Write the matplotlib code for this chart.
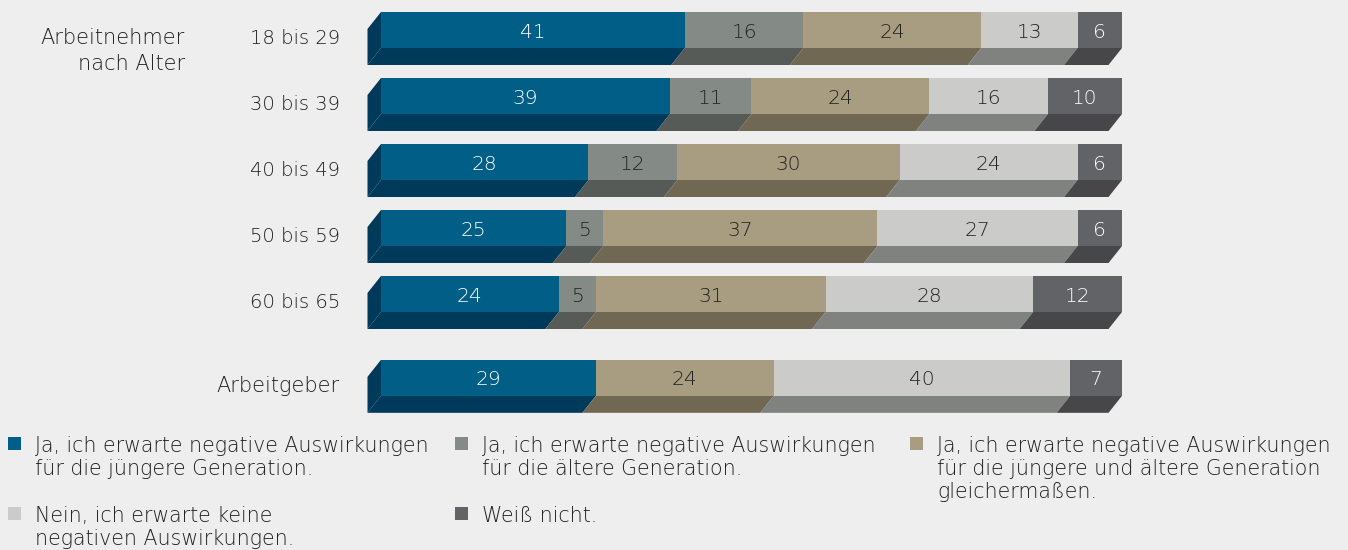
import matplotlib.pyplot as plt
from matplotlib.patches import Polygon, Rectangle

# Daten
gruppen = ['18 bis 29', '30 bis 39', '40 bis 49', '50 bis 59', '60 bis 65', 'Arbeitgeber']
ja_juenger = [41, 39, 28, 25, 24, 29]
ja_aelter = [16, 11, 12, 5, 5, 0]
ja_beide = [24, 24, 30, 37, 31, 24]
nein = [13, 16, 24, 27, 28, 40]
weiss_nicht = [6, 10, 6, 6, 12, 7]

legende = [
    'Ja, ich erwarte negative Auswirkungen\nfür die jüngere Generation.',
    'Ja, ich erwarte negative Auswirkungen\nfür die ältere Generation.',
    'Ja, ich erwarte negative Auswirkungen\nfür die jüngere und ältere Generation\ngleichermaßen.',
    'Nein, ich erwarte keine\nnegativen Auswirkungen.',
    'Weiß nicht.',
]

# Farben: Vorderseite, Unterseite, Textfarbe
farben = ['#005e87', '#848a85', '#a89c81', '#cbccc9', '#626366']
farben_unten = ['#003a5a', '#575b57', '#716853', '#808280', '#474749']
text_farben = ['white', '#222222', '#222222', '#222222', 'white']

plt.rcParams['font.family'] = ['DejaVu Sans']
gewicht = 200  # DejaVu Sans ExtraLight
textfarbe = '#1e1e1e'

fig = plt.figure(figsize=(13.48, 5.5), dpi=100, facecolor='#eeeeee')
ax = fig.add_axes([0, 0, 1, 1])
ax.set_facecolor('#eeeeee')

# Skala: 100 % = 741 px, Start bei x=381 px
px_x = 7.41
px_y = 66.0
ax.set_xlim(-381 / px_x, (1348 - 381) / px_x)
ax.set_ylim((550 - 30) / px_y, -30 / px_y)
ax.axis('off')

y_pos = [0, 1, 2, 3, 4, 5.27]
hoehe = 36 / px_y
dx = -13.5 / px_x
dy = 17 / px_y

serien = [ja_juenger, ja_aelter, ja_beide, nein, weiss_nicht]

for i, y in enumerate(y_pos):
    unten = y + hoehe / 2
    oben = y - hoehe / 2
    # linke Seitenfläche
    ax.add_patch(Polygon([(0, oben), (0, unten), (dx, unten + dy), (dx, oben + dy)],
                         closed=True, facecolor=farben_unten[0], edgecolor='none'))
    links = 0
    for s, werte in enumerate(serien):
        w = werte[i]
        if w == 0:
            continue
        # Unterseite
        ax.add_patch(Polygon([(links, unten), (links + w, unten),
                              (links + w + dx, unten + dy), (links + dx, unten + dy)],
                             closed=True, facecolor=farben_unten[s], edgecolor='none'))
        # Vorderseite
        ax.barh(y, w, left=links, height=hoehe, color=farben[s], edgecolor='none')
        ax.text(links + w / 2, y + 2 / px_y, str(w), ha='center', va='center',
                fontsize=14.5, fontweight=gewicht, color=text_farben[s])
        links += w

    # Gruppenbeschriftung
    gr = 14 if i < 5 else 15
    ax.text(-41 / px_x, y + 8 / px_y, gruppen[i], ha='right', va='center',
            fontsize=gr, fontweight=gewicht, color=textfarbe)

ax.text(-196 / px_x, 8 / px_y, 'Arbeitnehmer', ha='right', va='center',
        fontsize=15, fontweight=gewicht, color=textfarbe)
ax.text(-196 / px_x, 34 / px_y, 'nach Alter', ha='right', va='center',
        fontsize=15, fontweight=gewicht, color=textfarbe)

# Legende
leg_pos = [(8, 443), (455, 443), (910, 443), (8, 513), (455, 513)]
leg_farben = [farben[0], farben[1], farben[2], farben[3], farben[4]]
for (lx, ly), text, f in zip(leg_pos, legende, leg_farben):
    fig.patches.append(Rectangle((lx / 1348, 1 - (ly + 7) / 550), 13 / 1348, 13 / 550,
                                 transform=fig.transFigure, facecolor=f, edgecolor='none'))
    fig.text((lx + 27) / 1348, 1 - (ly - 7) / 550, text, ha='left', va='top',
             fontsize=14.8, fontweight=gewicht, color=textfarbe, linespacing=1.18)

fig.savefig('out.png', dpi=100, facecolor=fig.get_facecolor())
